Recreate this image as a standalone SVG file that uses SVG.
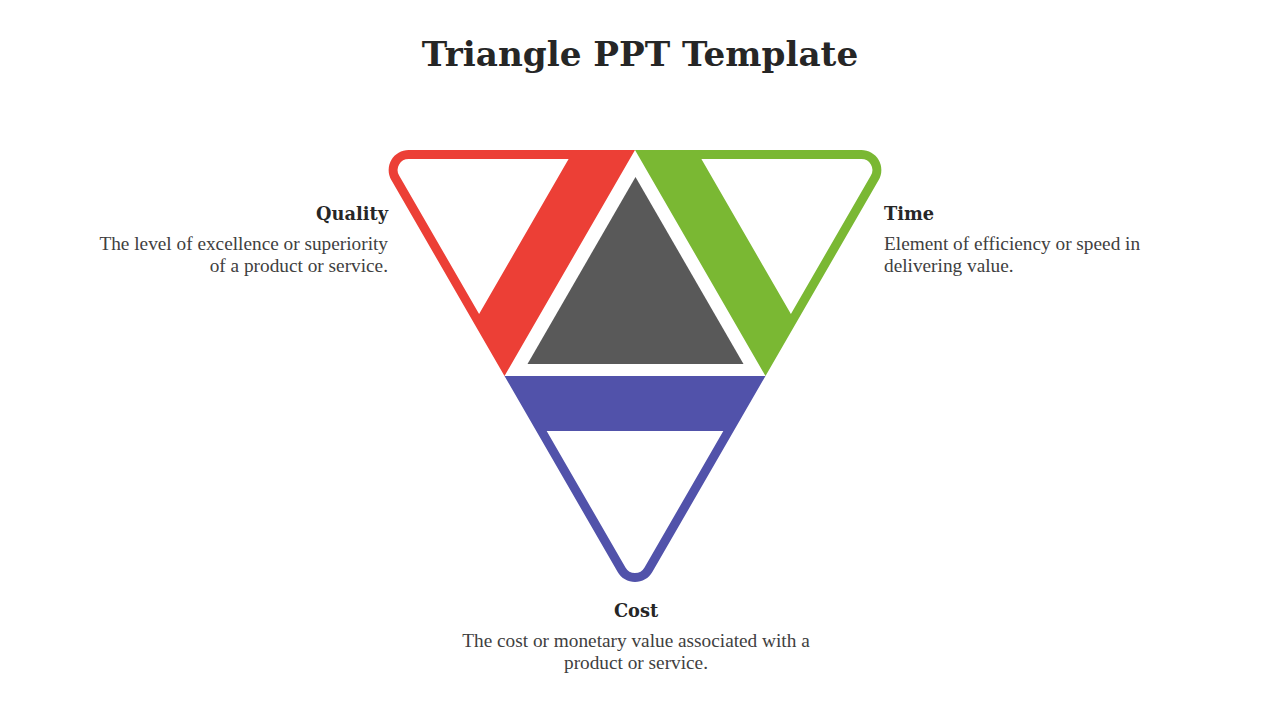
<svg xmlns="http://www.w3.org/2000/svg" width="1280" height="720" viewBox="0 0 1280 720">
  <style>
    .title { font-family: "DejaVu Serif", "Liberation Serif", serif; font-weight: bold; font-size: 34.2px; fill: #262626; }
    .head { font-family: "DejaVu Serif", "Liberation Serif", serif; font-weight: bold; font-size: 17.8px; fill: #262626; }
    .body { font-family: "Liberation Serif", "DejaVu Serif", serif; font-size: 19.3px; fill: #404040; }
    .red { fill: #EC3F36; }
    .green { fill: #7AB833; }
    .blue { fill: #5152AA; }
    .gray { fill: #595959; }
  </style>
  <rect width="1280" height="720" fill="#FFFFFF"/>
  <text class="title" x="640" y="66" text-anchor="middle">Triangle PPT Template</text>

  <g id="quality">
    <path class="red" fill-rule="evenodd" d="M408.64,150 L635,150 L504.5,376 L391.32,180 A20,20 0 0 1 408.64,150 Z M408.64,159 L568.6,159 L479.1,314 L399.11,175.5 A11,11 0 0 1 408.64,159 Z"/>
    <text class="head" x="388" y="220" text-anchor="end">Quality</text>
    <text class="body" x="388" y="250" text-anchor="end">The level of excellence or superiority</text>
    <text class="body" x="388" y="272" text-anchor="end">of a product or service.</text>
  </g>

  <g id="time">
    <path class="green" fill-rule="evenodd" d="M861.36,150 L635,150 L765.5,376 L878.68,180 A20,20 0 0 0 861.36,150 Z M861.36,159 L701.4,159 L790.9,314 L870.89,175.5 A11,11 0 0 0 861.36,159 Z"/>
    <text class="head" x="884" y="220">Time</text>
    <text class="body" x="884" y="250">Element of efficiency or speed in</text>
    <text class="body" x="884" y="272">delivering value.</text>
  </g>

  <g id="cost">
    <path class="blue" fill-rule="evenodd" d="M504.5,376 L765.5,376 L652.32,572 A20,20 0 0 1 617.68,572 Z M546.67,431 L723.33,431 L644.53,567.5 A11,11 0 0 1 625.47,567.5 Z"/>
    <text class="head" x="636" y="617" text-anchor="middle">Cost</text>
    <text class="body" x="636" y="647" text-anchor="middle">The cost or monetary value associated with a</text>
    <text class="body" x="636" y="669" text-anchor="middle">product or service.</text>
  </g>

  <g id="center">
    <path class="gray" d="M635.5,177 L743.5,364 L527.5,364 Z"/>
  </g>
</svg>
